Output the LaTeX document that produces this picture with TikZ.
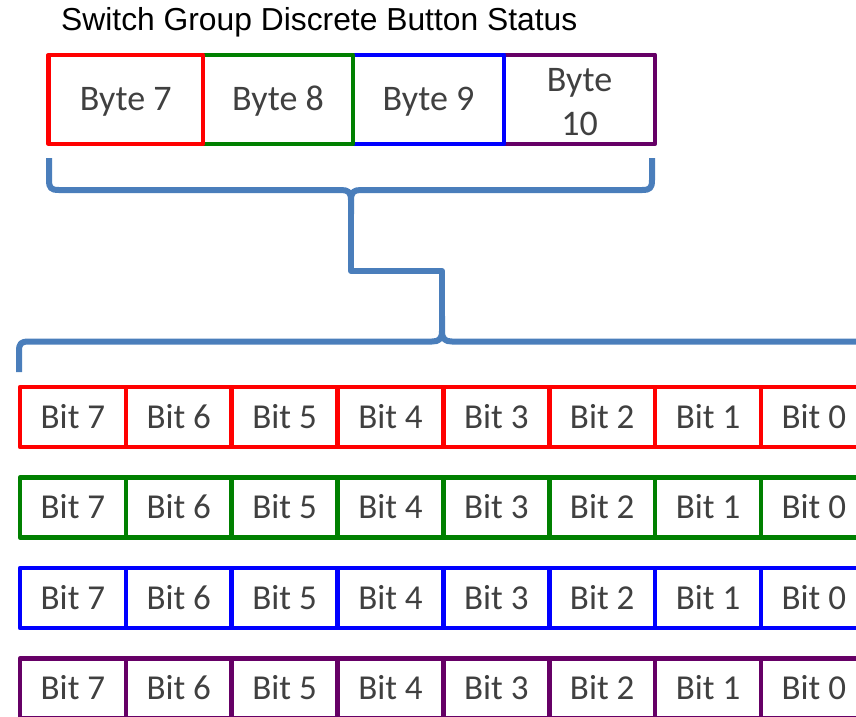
\documentclass[tikz,border=0pt]{standalone}
\usepackage{fontspec}
\setmainfont{Carlito}
\newfontfamily\titlefont{Liberation Sans}
\usetikzlibrary{calc}
\definecolor{bytered}{RGB}{255,0,0}
\definecolor{bytegreen}{RGB}{0,128,0}
\definecolor{byteblue}{RGB}{0,0,255}
\definecolor{bytepurple}{RGB}{102,0,102}
\definecolor{labelgray}{RGB}{64,64,64}
\definecolor{bracecol}{RGB}{74,126,187}

\begin{document}
\begin{tikzpicture}[x=1pt,y=-1pt,
  cell/.style={draw, line width=4.5pt, rectangle, inner sep=0pt,
    text=labelgray, text depth=0pt, line join=round},
  bytecell/.style={cell, minimum width=#1, minimum height=89pt,
    font=\fontsize{36}{44}\selectfont, text height=22.75pt},
  bytetext/.style={inner sep=0pt, anchor=base, text=labelgray,
    font=\fontsize{36}{44}\selectfont},
  bitcell/.style={cell, minimum width=105.85pt, minimum height=60pt,
    font=\fontsize{35}{42}\selectfont, text height=22.1pt},
  brace/.style={draw=bracecol, line width=6pt, line join=round}
]
\useasboundingbox (0,0) rectangle (856,716);
\clip (0,0) rectangle (856,716);

% title
\node[anchor=base west, inner sep=0pt, font=\titlefont\fontsize{31.8}{38}\selectfont]
  (title) at (61,30) {Switch Group Discrete Button Status};

% byte boxes (drawn right to left so each left box overlaps the shared edge)
\node[bytecell=151pt, draw=bytepurple] (b10) at (579.5,99.25) {};
\node[bytetext] (b10a) at (579.5,91.5) {Byte};
\node[bytetext] (b10b) at (579.5,135) {10};
\node[bytecell=151pt, draw=byteblue] (b9) at (428.5,99.25) {Byte 9};
\node[bytecell=150pt, draw=bytegreen] (b8) at (278,99.25) {Byte 8};
\node[bytecell=154.5pt, draw=bytered] (b7) at (125.75,99.25) {Byte 7};

% upper brace
\draw[brace] (49,158) -- (49,180) .. controls (49,188) and (51,190) .. (59,190)
  -- (341,190) .. controls (348,190) and (351,192) .. (351,200) -- (351,214);
\draw[brace] (652,158) -- (652,180) .. controls (652,188) and (650,190) .. (642,190)
  -- (361,190) .. controls (354,190) and (351,192) .. (351,200);

% stepped link between the two braces
\coordinate (tc) at (351,212);
\coordinate (bc) at (442,318);
\draw[brace] (tc) -- ($(tc)+(0,59)$) -| (bc);

% lower brace
\draw[brace] (19,372) -- (19,351) .. controls (19,343.5) and (21,341.5) .. (29,341.5)
  -- (432,341.5) .. controls (439,341.5) and (442,339) .. (442,331) -- (442,316);
\draw[brace] (442,331) .. controls (442,339) and (445,341.5) .. (452,341.5) -- (870,341.5);

% bit rows
\foreach \row/\col/\yy in {1/bytered/417, 2/bytegreen/507.5, 3/byteblue/598, 4/bytepurple/688.5}{
  \foreach \i in {0,...,7}{
    \pgfmathtruncatemacro{\bit}{7-\i}
    \node[bitcell, draw=\col] (r\row b\bit) at ({20+105.85*(\i+0.5)},\yy) {Bit \bit};
  }
}
\end{tikzpicture}
\end{document}
